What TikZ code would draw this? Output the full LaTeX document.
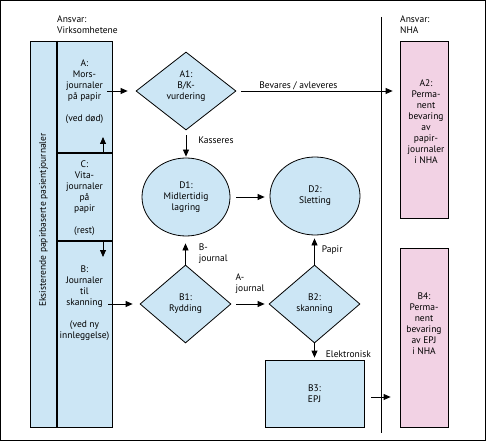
\documentclass[tikz,border=0pt]{standalone}
\usepackage{fontspec}
\setmainfont{PT Sans}
\usetikzlibrary{shapes.geometric,arrows.meta}

\definecolor{jblue}{RGB}{204,230,245}
\definecolor{jpink}{RGB}{242,210,228}

\tikzset{
  lbl/.style={font=\fontsize{9.5bp}{11bp}\selectfont, inner sep=1bp, align=center},
  lane/.style={draw, line width=0.8bp, fill=jblue, inner sep=0pt, minimum width=55bp},
  store/.style={draw, line width=0.8bp, fill=jpink, inner sep=0pt, minimum width=48bp},
  choice/.style={lbl, diamond, draw, line width=0.8bp, fill=jblue, inner sep=0pt,
    minimum width=91bp, minimum height=78bp},
  stage/.style={lbl, ellipse, draw, line width=0.8bp, fill=jblue, inner sep=0pt,
    minimum height=78bp},
  flow/.style={->, line width=0.8bp},
  divider/.style={line width=2bp},
}

\begin{document}
\begin{tikzpicture}[x=1bp, y=-1bp, >={Triangle[length=7bp,width=6bp]}]
\useasboundingbox (0,0) rectangle (486,441);
\draw[line width=1.2bp] (0.6,0.6) rectangle (485.4,440.4);

% responsibility headers
\node (ansvarV) [lbl, align=left, anchor=north west] at (56,15) {Ansvar:\\Virksomhetene};
\node (ansvarN) [lbl, align=left, anchor=north west] at (399,15) {Ansvar:\\NHA};
\coordinate (sepT) at (381,17);
\coordinate (sepB) at (381,433);
\draw[line width=0.8bp] (sepT) -- (sepB);

% existing paper records
\node (col) [lane, minimum width=27bp, minimum height=386bp] at (43.5,234) {};
\node (colTxt) [lbl, rotate=90] at (43.5,220) {Eksisterende papirbaserte pasientjournaler};
\node (A) [lane, minimum height=112bp] at (84.5,97) {};
\node (C) [lane, minimum height=88bp] at (84.5,197) {};
\node (B) [lane, minimum height=186bp] at (84.5,334) {};
\draw[divider] (col.north east) -- (col.south east);
\draw[divider] (A.south west) -- (A.south east);
\draw[divider] (C.south west) -- (C.south east);
\node (Atxt) [lbl] at (84.5,91.5) {A:\\Mors-\\journaler\\på papir\\[11bp](ved død)};
\node (Ctxt) [lbl] at (84.5,198.5) {C:\\Vita-\\journaler\\på\\papir\\[11bp](rest)};
\node (Btxt) [lbl] at (84.5,303) {B:\\Journaler\\til\\skanning\\[11bp](ved ny\\innleggelse)};

% process steps
\node (A1) [choice, minimum width=100bp] at (186,91) {};
\node (A1txt) [lbl] at (186,86) {A1:\\B/K-\\vurdering};
\node (D1) [stage, minimum width=88bp] at (186,197) {D1:\\Midlertidig\\lagring};
\node (D2) [stage, minimum width=90bp] at (315,196) {D2:\\Sletting};
\node (B1) [choice] at (185.5,304) {B1:\\Rydding};
\node (B2) [choice] at (314.5,304) {B2:\\skanning};
\node (B3) [lane, minimum width=99bp, minimum height=67bp, lbl, inner sep=0pt] at (314.5,393.5) {B3:\\EPJ};

% archive
\node (A2) [store, minimum height=177bp] at (424,129.5) {};
\node (A2txt) [lbl] at (426,121.5) {A2:\\Perma-\\nent\\bevaring\\av\\papir-\\journaler\\i NHA};
\node (B4) [store, minimum height=179bp] at (424,337.5) {};
\node (B4txt) [lbl] at (424,324) {B4:\\Perma-\\nent\\bevaring\\av EPJ\\i NHA};

% flows
\coordinate (CA) at (103,137);
\coordinate (CB) at (103,257);
\draw[flow] (CA |- C.north) -- (CA);
\draw[flow] (CB |- B.north) -- (CB);
\draw[flow, shorten <=-5bp, shorten >=8bp] (A.east |- A1.west) -- (A1.west);
\draw[flow, shorten <=5bp, shorten >=7bp] (A1.east) -- node[lbl, above, pos=0.38] {Bevares / avleveres} (A1.east -| A2.west);
\draw[flow, shorten <=5bp, shorten >=1bp] (A1.south) -- node[lbl, right=11bp, pos=0.35] {Kasseres} (D1.north);
\draw[flow, shorten <=6bp, shorten >=5bp] (D1.east) -- (D1.east -| D2.west);
\draw[flow, shorten <=-4bp, shorten >=7bp] (B.east |- B1.west) -- (B1.west);
\draw[flow, shorten >=7bp] (B1.north) -- node[lbl, align=left, right=12bp, pos=0.38] {B-\\journal} (B1.north |- D1.south);
\draw[flow, shorten <=5bp, shorten >=4bp] (B1.east) -- node[lbl, align=left, above=9.5bp] {A-\\journal} (B2.west);
\draw[flow, shorten >=3bp] (B2.north) -- node[lbl, right=6bp] {Papir} (B2.north |- D2.south);
\draw[flow, shorten >=2bp] (B2.south) -- node[lbl, right=10bp, pos=0.65] {Elektronisk} (B3.north);
\draw[flow, shorten <=7bp, shorten >=9bp] ([yshift=-3.5bp]B3.east) -- ([yshift=-3.5bp]B3.east -| B4.west);
\end{tikzpicture}
\end{document}
